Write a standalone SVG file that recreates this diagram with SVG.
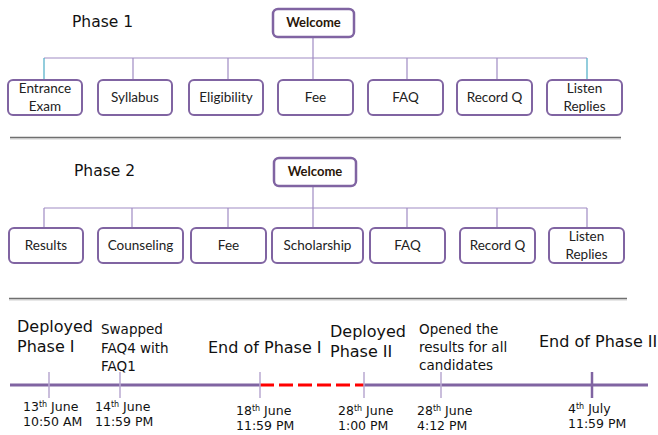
<svg xmlns="http://www.w3.org/2000/svg" width="658" height="435" viewBox="0 0 658 435">
<style>
.box{fill:#fff;stroke:#8064a2;stroke-width:2}
.wbox{fill:#fff;stroke:#8064a2;stroke-width:2.5}
.bt{font-family:Lato,"Liberation Sans",sans-serif;font-size:13.5px;fill:#222;text-anchor:middle}
.wt{font-family:Lato,"Liberation Sans",sans-serif;font-size:13px;font-weight:bold;fill:#2a1608;text-anchor:middle}
.con{stroke:#a08cc4;stroke-width:1.2;fill:none}
.tl{font-family:"DejaVu Sans",sans-serif;fill:#111}
.ph{font-family:"DejaVu Sans",sans-serif;font-size:15.5px;fill:#111}
.big{font-size:16px}
.mid{font-size:13.5px}
.dt{font-size:12.5px}
.sep{stroke:#6f6f6f;stroke-width:1.5}
.seps{stroke:#d0d0d0;stroke-width:1}
.tick{stroke:#b8a8d0;stroke-width:1.5}
</style>

<text class="ph" x="72" y="27">Phase  1</text>
<text class="ph" x="74" y="176">Phase  2</text>

<g id="connectors">
  <path class="con" d="M313 37V80M44 58H587M133 58V80M228 58V80M407 58V80M497 58V80"/>
  <path d="M44 58V80M587 58V80" stroke="#4bacc6" stroke-width="1.2" fill="none"/>
  <path class="con" d="M313 186V228M44 208H587M44 208V228M132 208V228M228 208V228M407 208V228M497 208V228M587 208V228"/>
</g>

<g id="p1-welcome"><rect class="wbox" x="273" y="9" width="81" height="28" rx="5"/><text class="wt" x="313.5" y="27">Welcome</text></g>
<g id="p1-entrance"><rect class="box" x="8" y="80" width="74" height="35" rx="5"/><text class="bt" x="45" y="93">Entrance</text><text class="bt" x="45" y="111">Exam</text></g>
<g id="p1-syllabus"><rect class="box" x="98" y="80" width="74" height="35" rx="5"/><text class="bt" x="135" y="102">Syllabus</text></g>
<g id="p1-eligibility"><rect class="box" x="189" y="80" width="74" height="35" rx="5"/><text class="bt" x="226" y="102">Eligibility</text></g>
<g id="p1-fee"><rect class="box" x="278" y="80" width="75" height="35" rx="5"/><text class="bt" x="315.5" y="102">Fee</text></g>
<g id="p1-faq"><rect class="box" x="368" y="80" width="75" height="35" rx="5"/><text class="bt" x="405.5" y="102">FAQ</text></g>
<g id="p1-record"><rect class="box" x="457" y="80" width="75" height="35" rx="5"/><text class="bt" x="494.5" y="102">Record Q</text></g>
<g id="p1-listen"><rect class="box" x="547" y="80" width="75" height="35" rx="5"/><text class="bt" x="584.5" y="93">Listen</text><text class="bt" x="584.5" y="111">Replies</text></g>

<line class="seps" x1="10" y1="139" x2="621" y2="139"/>
<line class="sep" x1="10" y1="137.5" x2="621" y2="137.5"/>

<g id="p2-welcome"><rect class="wbox" x="274" y="158" width="82" height="28" rx="5"/><text class="wt" x="315" y="176">Welcome</text></g>
<g id="p2-results"><rect class="box" x="9" y="228" width="74" height="35" rx="5"/><text class="bt" x="46" y="250">Results</text></g>
<g id="p2-counseling"><rect class="box" x="98" y="228" width="85" height="35" rx="5"/><text class="bt" x="140.5" y="250">Counseling</text></g>
<g id="p2-fee"><rect class="box" x="191" y="228" width="75" height="35" rx="5"/><text class="bt" x="228.5" y="250">Fee</text></g>
<g id="p2-scholarship"><rect class="box" x="272" y="228" width="91" height="35" rx="5"/><text class="bt" x="317.5" y="250">Scholarship</text></g>
<g id="p2-faq"><rect class="box" x="370" y="228" width="75" height="35" rx="5"/><text class="bt" x="407.5" y="250">FAQ</text></g>
<g id="p2-record"><rect class="box" x="460" y="228" width="75" height="35" rx="5"/><text class="bt" x="497.5" y="250">Record Q</text></g>
<g id="p2-listen"><rect class="box" x="549" y="228" width="75" height="35" rx="5"/><text class="bt" x="586.5" y="241">Listen</text><text class="bt" x="586.5" y="259">Replies</text></g>

<line class="seps" x1="9" y1="300" x2="627" y2="300"/>
<line class="sep" x1="9" y1="298.5" x2="627" y2="298.5"/>

<g id="timeline">
  <line x1="10" y1="385" x2="260" y2="385" stroke="#8064a2" stroke-width="3"/>
  <line x1="260" y1="385" x2="364" y2="385" stroke="#ff0000" stroke-width="3" stroke-dasharray="14 5"/>
  <line x1="364" y1="385" x2="648" y2="385" stroke="#8064a2" stroke-width="3"/>
  <line class="tick" x1="49" y1="372" x2="49" y2="398"/>
  <line class="tick" x1="120" y1="372" x2="120" y2="398"/>
  <line class="tick" x1="260" y1="372" x2="260" y2="398"/>
  <line class="tick" x1="364" y1="372" x2="364" y2="398"/>
  <line class="tick" x1="441" y1="372" x2="441" y2="398"/>
  <line x1="592" y1="372" x2="592" y2="398" stroke="#8064a2" stroke-width="2.5"/>
</g>

<g id="events" class="tl">
  <text class="big" x="17" y="332">Deployed</text>
  <text class="big" x="17" y="352">Phase I</text>
  <text class="mid" x="101" y="334">Swapped</text>
  <text class="mid" x="101" y="353">FAQ4 with</text>
  <text class="mid" x="101" y="371">FAQ1</text>
  <text class="big" x="208" y="353">End of Phase I</text>
  <text class="big" x="330" y="337">Deployed</text>
  <text class="big" x="330" y="357">Phase II</text>
  <text class="mid" x="419" y="334">Opened the</text>
  <text class="mid" x="419" y="352">results for all</text>
  <text class="mid" x="419" y="370">candidates</text>
  <text class="big" x="539" y="347">End of Phase II</text>

  <text class="dt" x="23" y="411">13<tspan font-size="8" dy="-4">th</tspan><tspan dy="4"> June</tspan></text>
  <text class="dt" x="23" y="426">10:50 AM</text>
  <text class="dt" x="95" y="411">14<tspan font-size="8" dy="-4">th</tspan><tspan dy="4"> June</tspan></text>
  <text class="dt" x="95" y="426">11:59 PM</text>
  <text class="dt" x="236" y="415">18<tspan font-size="8" dy="-4">th</tspan><tspan dy="4"> June</tspan></text>
  <text class="dt" x="236" y="430">11:59 PM</text>
  <text class="dt" x="338" y="415">28<tspan font-size="8" dy="-4">th</tspan><tspan dy="4"> June</tspan></text>
  <text class="dt" x="338" y="430">1:00 PM</text>
  <text class="dt" x="417" y="415">28<tspan font-size="8" dy="-4">th</tspan><tspan dy="4"> June</tspan></text>
  <text class="dt" x="417" y="430">4:12 PM</text>
  <text class="dt" x="568" y="413">4<tspan font-size="8" dy="-4">th</tspan><tspan dy="4"> July</tspan></text>
  <text class="dt" x="568" y="428">11:59 PM</text>
</g>
</svg>
